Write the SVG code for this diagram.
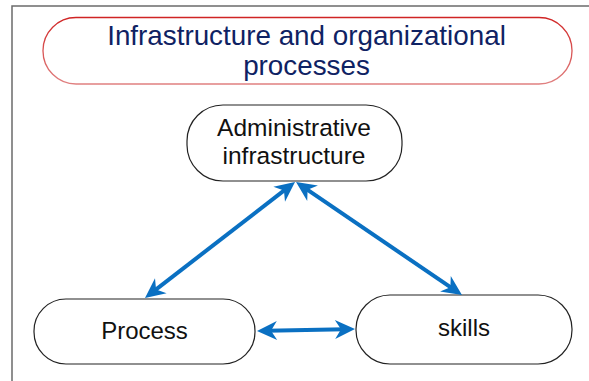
<svg xmlns="http://www.w3.org/2000/svg" width="589" height="381" viewBox="0 0 589 381">
<style>
.frame{fill:none;stroke:#6b6b6b;stroke-width:1.5}
.node{fill:#fff;stroke:#222;stroke-width:1.2}
.title{fill:#fff;stroke:url(#redg);stroke-width:1.3}
.t{font-family:"Liberation Sans",Arial,sans-serif;font-size:24px;fill:#111;text-anchor:middle}
.t2{font-size:24.5px}
.tt{font-family:"Liberation Sans",Arial,sans-serif;font-size:27.8px;fill:#0f2263;text-anchor:middle}
.conn{stroke:#0a70c2;stroke-width:4;fill:none;marker-start:url(#ah);marker-end:url(#ah)}
</style>
<defs>
<linearGradient id="redg" x1="0" y1="0" x2="0" y2="1">
<stop offset="0" stop-color="#d02424"/>
<stop offset="1" stop-color="#e08080"/>
</linearGradient>
<marker id="ah" markerUnits="userSpaceOnUse" markerWidth="30" markerHeight="30" refX="0" refY="0" orient="auto-start-reverse" overflow="visible">
<path d="M10,0 L-10,-9.5 L-4,0 L-10,9.5 Z" fill="#0a70c2"/>
</marker>
</defs>
<path class="frame" d="M12,381 L12,6 L589,6"/>
<g id="title">
<rect class="title" x="43" y="17.5" width="529" height="66.5" rx="33" ry="33"/>
<text class="tt" x="306.5" y="45">Infrastructure and organizational</text>
<text class="tt" x="306.5" y="75">processes</text>
</g>
<g id="admin">
<rect class="node" x="187" y="105" width="215" height="76" rx="36" ry="36"/>
<text class="t t2" x="294" y="136">Administrative</text>
<text class="t t2" x="294" y="164">infrastructure</text>
</g>
<g id="process">
<rect class="node" x="34" y="299" width="221" height="65" rx="32" ry="32"/>
<text class="t" x="144.5" y="339">Process</text>
</g>
<g id="skills">
<rect class="node" x="356" y="295" width="216" height="69" rx="34" ry="34"/>
<text class="t" x="464" y="336">skills</text>
</g>
<g id="connectors">
<path class="conn" d="M287.1,188.1 L152.9,291.9"/>
<path class="conn" d="M304.3,187.6 L453.7,289.4"/>
<path class="conn" d="M267,330.8 L345,329.2"/>
</g>
</svg>
